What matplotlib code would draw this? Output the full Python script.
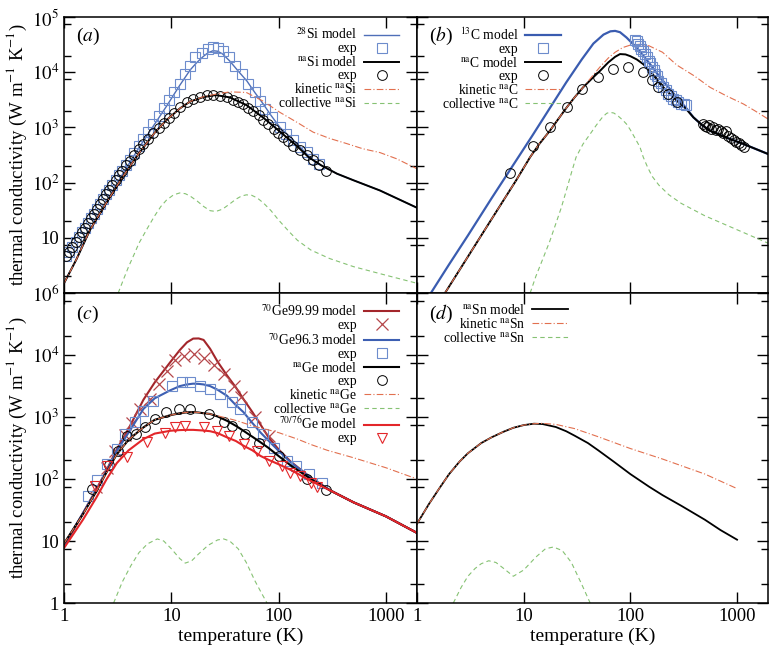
import matplotlib
matplotlib.use('Agg')
import matplotlib.pyplot as plt
from matplotlib.ticker import LogLocator, NullLocator, FixedLocator, FixedFormatter, NullFormatter

plt.rcParams['font.family'] = ['Liberation Serif', 'DejaVu Serif']
plt.rcParams['mathtext.fontset'] = 'stix'

# ---------------- panel (a): Si ----------------
a_T_28si = [1, 1.3, 1.75, 2.5, 3.5, 5, 7, 9, 12, 15, 17.3, 20, 22, 24.5, 27, 30, 35, 42, 50.6, 60,
            71.5, 85, 103, 125, 148, 175, 209, 250, 350, 500, 880, 1950]
a_k_28si = [1.5, 4, 14, 45, 140, 430, 1150, 2400, 5800, 11000, 15000, 19500, 22500, 24500, 24000, 21500,
            16000, 10500, 6950, 4300, 2700, 1650, 1000, 700, 510, 360, 255, 205, 145, 110, 72, 35]
a_T_nasi = [1, 1.3, 1.75, 2.5, 3.5, 5, 7, 9, 12, 15, 20, 26, 35, 50, 72, 100, 150, 190, 250, 350, 500, 880, 1950]
a_k_nasi = [1.5, 4, 14, 44, 125, 340, 800, 1350, 2200, 2950, 3550, 3850, 3500, 2550, 1500, 880, 450, 290,
            205, 145, 110, 72, 35]
a_T_kin = [1, 1.3, 1.75, 2.5, 3.5, 5, 7, 9, 12, 15, 20, 26, 35, 50, 71.5, 103, 148, 210, 300, 430, 610,
           880, 1260, 1950]
a_k_kin = [1.5, 4, 14, 44, 125, 340, 800, 1350, 2200, 2950, 3600, 4000, 4400, 4300, 3000, 1870, 1240, 820,
           630, 510, 410, 350, 270, 178]
a_T_col = [3.2, 3.6, 4, 4.5, 5, 6, 7, 8, 9, 10.5, 12, 13.5, 15, 17.5, 20, 23, 26, 30, 35, 40, 45, 50, 56,
           63, 72, 85, 100, 125, 150, 200, 300, 500, 1000, 1950]
a_k_col = [1, 1.8, 3, 5, 8, 15, 25, 37, 48, 60, 65, 63, 57, 46, 37, 31, 30, 33, 41, 50, 57, 60, 59, 53, 43,
           31, 21, 13, 9, 6, 4.2, 3, 2.1, 1.5]
a_T_low = [1.05, 1.12, 1.2, 1.28, 1.37, 1.46, 1.56, 1.67, 1.78, 1.9, 2.03, 2.17, 2.32, 2.48, 2.65, 2.83,
           3.03, 3.25, 3.5]
a_k_low = [4.6, 5.6, 6.9, 8.4, 10.3, 12.5, 15.2, 18.6, 22.5, 27.5, 33.5, 41, 50, 61, 74, 90, 110, 135, 165]
a_T_sq = a_T_low + [3.8, 4.1, 4.5, 5.0, 5.5, 6.1, 6.8, 7.6, 8.5, 9.5, 10.7, 12.0, 13.4, 14.9, 16.6, 19.2,
                    22.1, 24.6, 27.4, 30.5, 34.6, 39.3, 45.2, 52.1, 60, 67, 74, 86, 103, 118, 137, 158,
                    183, 210, 240]
a_k_sq = a_k_low + [210, 262, 345, 468, 620, 842, 1160, 1600, 2230, 3100, 4380, 6100, 9300, 13100, 18500,
                    22700, 26000, 28700, 28000, 24300, 18500, 13100, 9300, 6100, 4300, 3000, 2150, 1520,
                    1000, 760, 580, 440, 355, 270, 215]
a_T_ci = a_T_low + [3.8, 4.1, 4.5, 5.0, 5.5, 6.1, 6.8, 7.6, 8.5, 9.5, 10.7, 12, 13.9, 16.1, 18.5, 21.4,
                    24.6, 28.4, 32.8, 37.9, 42.2, 47, 52.3, 58, 65, 72, 80.5, 90, 99, 110, 123, 137, 158,
                    183, 210, 240, 275]
a_k_ci = a_k_low + [205, 250, 310, 400, 500, 620, 780, 960, 1180, 1450, 1800, 2370, 2850, 3250, 3600, 3800,
                    3880, 3750, 3500, 3200, 2900, 2600, 2250, 1950, 1650, 1380, 1140, 950, 800, 670, 560,
                    470, 385, 315, 255, 205, 165]

# ---------------- panel (b): C ----------------
b_T_13c = [1.35, 2, 3, 5, 8, 12, 18, 25, 35, 45, 56, 65, 72, 80, 92, 110, 132, 160, 190, 230, 272, 330,
           390, 470, 560, 800, 1150, 1950]
b_k_13c = [1, 3.3, 11, 52, 210, 700, 2400, 6500, 17000, 33000, 48000, 55000, 56000, 53000, 42500, 30000,
           20000, 12500, 8000, 5200, 3500, 2300, 1520, 1100, 870, 650, 500, 330]
b_T_nac = [1.83, 2.5, 4, 6, 8.5, 11.5, 14, 17.6, 21, 25.3, 30, 36, 44, 52, 62, 72, 80, 90, 100, 115, 132,
           160, 190, 230, 272, 330, 390, 470, 560, 800, 1150, 1950]
b_k_nac = [1, 2.6, 11, 38, 110, 290, 500, 870, 1400, 2300, 3500, 5300, 7800, 10600, 15000, 19000, 21300,
           21000, 19500, 17000, 14000, 9500, 6100, 4200, 3050, 2200, 1520, 1100, 870, 650, 500, 330]
b_T_kin = [1.83, 2.5, 4, 6, 8.5, 11.5, 14, 17.6, 21, 25.3, 30, 36, 44, 52, 62, 72, 85, 100, 123, 150,
           200, 272, 400, 560, 800, 1150, 1500, 1950]
b_k_kin = [1, 2.6, 11, 38, 110, 290, 500, 870, 1400, 2300, 3500, 5300, 8500, 12500, 18000, 23000, 28000,
           31000, 32000, 30000, 23000, 13500, 8500, 5300, 3700, 2650, 1950, 1420]
b_T_col = [11.5, 13, 15, 17.5, 20, 22.5, 25, 28, 31, 36, 42, 48, 55, 60, 64, 70, 77, 85, 92, 100, 110,
           123, 132, 145, 160, 185, 230, 300, 500, 1000, 1950]
b_k_col = [1, 2, 4, 8.5, 18, 35, 70, 150, 290, 500, 760, 1100, 1550, 1800, 1880, 1820, 1600, 1350, 1150,
           900, 650, 440, 290, 190, 130, 90, 60, 42, 25, 14, 8]
b_T_sq = [110, 115, 119, 122, 127, 131, 137, 142, 148, 153, 159, 165, 170, 176, 183, 193, 204, 215, 227,
          240, 252, 265, 282, 300, 315, 330]
b_k_sq = [39000, 36000, 32000, 30000, 26000, 24000, 21300, 19000, 16100, 14500, 12200, 11000, 9300, 8500,
          7000, 6300, 5300, 4800, 4000, 3700, 3250, 3100, 2850, 2700, 2650, 2500]
b_T_ci = [7.5, 12.3, 17.6, 25.3, 35, 50, 69, 96, 132, 159, 183, 227, 272, 480, 500, 520, 545, 570, 600,
          630, 660, 700, 740, 780, 830, 880, 930, 980, 1040, 1100, 1150]
b_k_ci = [150, 455, 1000, 2370, 4900, 8300, 11400, 12200, 9900, 7200, 5450, 4000, 2850, 1150, 1050, 1000,
          1100, 950, 1000, 900, 950, 850, 800, 850, 700, 650, 600, 550, 520, 480, 450]

# ---------------- panel (c): Ge ----------------
c_T_mod = [1, 1.5, 2, 2.5, 3.1, 4, 5.5, 7, 9.8, 12, 14, 16, 18, 20, 23, 27, 33, 40, 47, 57, 68, 80, 100,
           130, 200, 300, 500, 1000, 1950]
c_k_9999 = [8, 28, 68, 140, 300, 650, 1900, 3600, 7700, 12000, 16000, 18400, 18500, 17500, 12600, 7800,
            4700, 3000, 1950, 1200, 750, 480, 300, 190, 105, 66, 42, 25, 13.5]
c_k_963 = [8.7, 28, 66, 135, 285, 560, 1350, 2000, 2700, 3150, 3350, 3450, 3420, 3350, 3150, 2750, 2200,
           1550, 1200, 800, 560, 420, 285, 185, 105, 66, 42, 25, 13.5]
c_k_nage = [9.1, 27, 63, 130, 250, 430, 680, 900, 1070, 1150, 1190, 1200, 1180, 1150, 1120, 1020, 870,
            720, 600, 480, 390, 320, 235, 165, 100, 66, 42, 25, 13.5]
c_k_7076 = [7.7, 22, 50, 100, 180, 290, 440, 540, 600, 615, 620, 620, 612, 605, 590, 550, 470, 410, 345,
            290, 235, 205, 173, 140, 93, 66, 42, 25, 13.5]
c_T_kin = [1, 1.5, 2, 2.5, 3.1, 4, 5.5, 7, 9.8, 12, 14, 16, 18, 20, 23, 30, 40, 57, 80, 100, 150, 200,
           285, 500, 1000, 1950]
c_k_kin = [9.1, 27, 63, 130, 250, 430, 680, 900, 1070, 1150, 1190, 1200, 1180, 1150, 1120, 1000, 880, 720,
           620, 560, 440, 360, 290, 220, 152, 100]
c_T_col = [2.9, 3.5, 4.2, 5, 6, 7.4, 8.5, 10, 12, 13.5, 15.5, 18, 22, 27, 30.8, 35, 42, 50, 60, 70, 78]
c_k_col = [1, 2.2, 4, 6.5, 9, 10.8, 10, 7.5, 5.2, 4.4, 4.8, 6.2, 8.5, 10.4, 10.8, 10, 7.5, 4.5, 2.3, 1.4, 1]
c_T_x = [2.0, 2.5, 3.0, 3.7, 4.3, 5.1, 6.3, 7.7, 9.1, 10.9, 13, 16.2, 20, 25, 31, 38, 45, 60, 81]
c_k_x = [75, 150, 280, 520, 800, 1350, 1950, 3460, 5600, 8200, 9600, 10500, 8900, 6800, 5000, 3200, 2100,
         1000, 500]
c_T_sq = [1.69, 2.02, 2.5, 3.1, 3.7, 4.6, 5.5, 6.8, 10.1, 12.6, 15, 18.6, 23, 28.6, 37, 44, 56, 71, 91,
          120, 144, 192, 256]
c_k_sq = [53, 98, 173, 300, 530, 820, 1260, 1830, 3150, 3650, 3650, 3150, 2780, 2350, 1730, 1350, 820,
          530, 320, 195, 163, 120, 87]
c_T_ci = [1.81, 2.6, 3.2, 3.85, 4.7, 5.7, 7.1, 9.0, 11.7, 15, 22.3, 31, 37, 49, 65, 100, 185, 275]
c_k_ci = [68, 166, 285, 500, 530, 680, 930, 1200, 1350, 1350, 1120, 835, 720, 530, 380, 235, 100, 66]
c_T_tri = [1.95, 2.5, 3.85, 5.9, 8.8, 10.9, 13.5, 20, 26.8, 34.5, 47.5, 63, 81, 108, 129, 160, 200, 230]
c_k_tri = [77, 163, 223, 400, 560, 680, 720, 680, 600, 490, 365, 285, 195, 163, 126, 112, 87, 75]

# ---------------- panel (d): Sn ----------------
d_T_mod = [1, 1.3, 1.64, 2, 2.5, 3, 4, 5, 6.5, 8, 10, 12.5, 15, 20, 25, 30, 40, 50, 70, 100, 150, 200,
           300, 500, 700, 1000]
d_k_mod = [19, 40, 73, 120, 190, 260, 380, 470, 580, 670, 740, 780, 770, 690, 590, 500, 380, 290, 190,
           120, 75, 55, 37, 22, 15, 10.5]
d_T_kin = [1, 1.3, 1.64, 2, 2.5, 3, 4, 5, 6.5, 8, 10, 12.5, 15, 20, 30, 50, 100, 200, 500, 1000]
d_k_kin = [19, 40, 73, 120, 190, 260, 380, 470, 580, 670, 740, 780, 790, 760, 650, 480, 310, 210, 120, 70]
d_T_col = [2.19, 2.6, 3, 3.5, 4, 4.7, 5.5, 6.5, 8, 10, 13, 16, 19, 23, 28, 35, 42]
d_k_col = [1, 1.8, 2.7, 3.6, 4.3, 4.8, 4.5, 3.6, 2.7, 3.4, 5.5, 7.5, 8, 7, 4.5, 2, 1]

BLUE = '#4f6fb8'
SQ = '#6d8ccc'
DRED = '#a3262b'
RED = '#e3262a'
KIN = '#e2704f'
COL = '#86c273'
kin_ls = (0, (6, 2, 1, 2))
col_ls = (0, (4, 3))
sq_kw = dict(ls='none', marker='s', ms=7.5, mfc='none', mec=SQ, mew=0.8)
ci_kw = dict(ls='none', marker='o', ms=7, mfc='none', mec='black', mew=0.7)

W, H = 770, 647
fig = plt.figure(figsize=(W / 100, H / 100), dpi=100)
xl, xr, xm = 64, 768, 417
yt, ym, yb = 17, 293, 603
axa = fig.add_axes([xl / W, 1 - ym / H, (xm - xl) / W, (ym - yt) / H])
axb = fig.add_axes([xm / W, 1 - ym / H, (xr - xm) / W, (ym - yt) / H])
axc = fig.add_axes([xl / W, 1 - yb / H, (xm - xl) / W, (yb - ym) / H])
axd = fig.add_axes([xm / W, 1 - yb / H, (xr - xm) / W, (yb - ym) / H])

for ax, lab in zip([axa, axb, axc, axd], ['a', 'b', 'c', 'd']):
    ax.set_xscale('log')
    ax.set_yscale('log')
    ax.set_xlim(1, 1950)
    ax.set_ylim(1, 1e5)
    ax.xaxis.set_major_locator(FixedLocator([1, 10, 100, 1000]))
    ax.xaxis.set_minor_locator(NullLocator())
    ax.yaxis.set_minor_locator(LogLocator(base=10, subs=(2.0, 7.5)))
    ax.yaxis.set_minor_formatter(NullFormatter())
    ax.tick_params(which='both', direction='in', top=True, right=True, labelsize=13.5, width=1.0)
    ax.tick_params(which='major', length=8)
    ax.tick_params(which='minor', length=5)
    for s in ax.spines.values():
        s.set_linewidth(1.1)
    ax.text(0.035, 0.915, '($%s$)' % lab, transform=ax.transAxes, fontsize=14)

yt_top = [1, 10, 100, 1e3, 1e4, 1e5]
axa.yaxis.set_major_locator(FixedLocator(yt_top))
axa.yaxis.set_major_formatter(FixedFormatter(['$10^6$', '10', '$10^2$', '$10^3$', '$10^4$', '$10^5$']))
axc.yaxis.set_major_locator(FixedLocator(yt_top))
axc.yaxis.set_major_formatter(FixedFormatter(['1', '10', '$10^2$', '$10^3$', '$10^4$', '']))
for ax in [axb, axd]:
    ax.yaxis.set_major_locator(FixedLocator(yt_top))
    ax.tick_params(labelleft=False)
for ax in [axa, axb]:
    ax.tick_params(labelbottom=False)
for ax in [axc, axd]:
    ax.xaxis.set_major_formatter(FixedFormatter(['1', '10', '100', '1000']))
    ax.set_xlabel('temperature (K)', fontsize=14, labelpad=2)
for ax in [axa, axc]:
    ax.set_ylabel('thermal conductivity (W m$^{-1}$ K$^{-1}$)', fontsize=13.5, labelpad=2)

leg_kw = dict(frameon=False, markerfirst=False, fontsize=9.8, labelspacing=0.0, handlelength=2.6,
              handletextpad=0.5, borderaxespad=0.0, loc='upper right')

# (a)  kinetic drawn over the model line, as in the original
h1, = axa.plot(a_T_28si, a_k_28si, color=BLUE, lw=1.0, label='$^{28}$Si model')
h2, = axa.plot(a_T_sq, a_k_sq, label='exp', **sq_kw)
h3, = axa.plot(a_T_nasi, a_k_nasi, color='black', lw=1.4, label='$^{\\rm na}$Si model')
h4, = axa.plot(a_T_ci, a_k_ci, label='exp', **ci_kw)
h5, = axa.plot(a_T_kin, a_k_kin, color=KIN, lw=0.8, ls=kin_ls, label='kinetic $^{\\rm na}$Si')
h6, = axa.plot(a_T_col, a_k_col, color=COL, lw=0.8, ls=col_ls, label='collective $^{\\rm na}$Si')
axa.legend(handles=[h1, h2, h3, h4, h5, h6], bbox_to_anchor=(0.965, 0.985), **leg_kw)

# (b)
h1, = axb.plot(b_T_13c, b_k_13c, color='#3a5cb0', lw=1.6, label='$^{13}$C model')
h3, = axb.plot(b_T_nac, b_k_nac, color='black', lw=1.4, label='$^{\\rm na}$C model')
h5, = axb.plot(b_T_kin, b_k_kin, color=KIN, lw=0.8, ls=kin_ls, label='kinetic $^{\\rm na}$C')
h2, = axb.plot(b_T_sq, b_k_sq, label='exp', **sq_kw)
h4, = axb.plot(b_T_ci, b_k_ci, label='exp', **ci_kw)
h6, = axb.plot(b_T_col, b_k_col, color=COL, lw=0.8, ls=col_ls, label='collective $^{\\rm na}$C')
axb.legend(handles=[h1, h2, h3, h4, h5, h6], bbox_to_anchor=(0.425, 0.985), **leg_kw)

# (c)
g1, = axc.plot(c_T_mod, c_k_9999, color=DRED, lw=1.5, label='$^{70}$Ge99.99 model')
g2, = axc.plot(c_T_x, c_k_x, ls='none', marker='x', ms=8, mec='#b5474a', mew=0.9, label='exp')
g3, = axc.plot(c_T_mod, c_k_963, color='#3d5fb2', lw=1.5, label='$^{70}$Ge96.3 model')
g4, = axc.plot(c_T_sq, c_k_sq, label='exp', **sq_kw)
g5, = axc.plot(c_T_mod, c_k_nage, color='black', lw=1.5, label='$^{\\rm na}$Ge model')
g6, = axc.plot(c_T_ci, c_k_ci, label='exp', **ci_kw)
g7, = axc.plot(c_T_kin, c_k_kin, color=KIN, lw=0.8, ls=kin_ls, label='kinetic $^{\\rm na}$Ge')
g8, = axc.plot(c_T_col, c_k_col, color=COL, lw=0.8, ls=col_ls, label='collective $^{\\rm na}$Ge')
g9, = axc.plot(c_T_mod, c_k_7076, color=RED, lw=1.5, label='$^{70/76}$Ge model')
g10, = axc.plot(c_T_tri, c_k_tri, ls='none', marker='v', ms=7.5, mfc='none', mec=RED, mew=0.8,
                label='exp')
axc.legend(handles=[g1, g2, g3, g4, g5, g6, g7, g8, g9, g10], bbox_to_anchor=(0.965, 0.985), **leg_kw)

# (d)
s1, = axd.plot(d_T_mod, d_k_mod, color='black', lw=1.3, label='$^{\\rm na}$Sn model')
s2, = axd.plot(d_T_kin, d_k_kin, color=KIN, lw=0.8, ls=kin_ls, label='kinetic $^{\\rm na}$Sn')
s3, = axd.plot(d_T_col, d_k_col, color=COL, lw=0.8, ls=col_ls, label='collective $^{\\rm na}$Sn')
axd.legend(handles=[s1, s2, s3], bbox_to_anchor=(0.445, 0.985), **leg_kw)

fig.savefig('out.png', dpi=100)
